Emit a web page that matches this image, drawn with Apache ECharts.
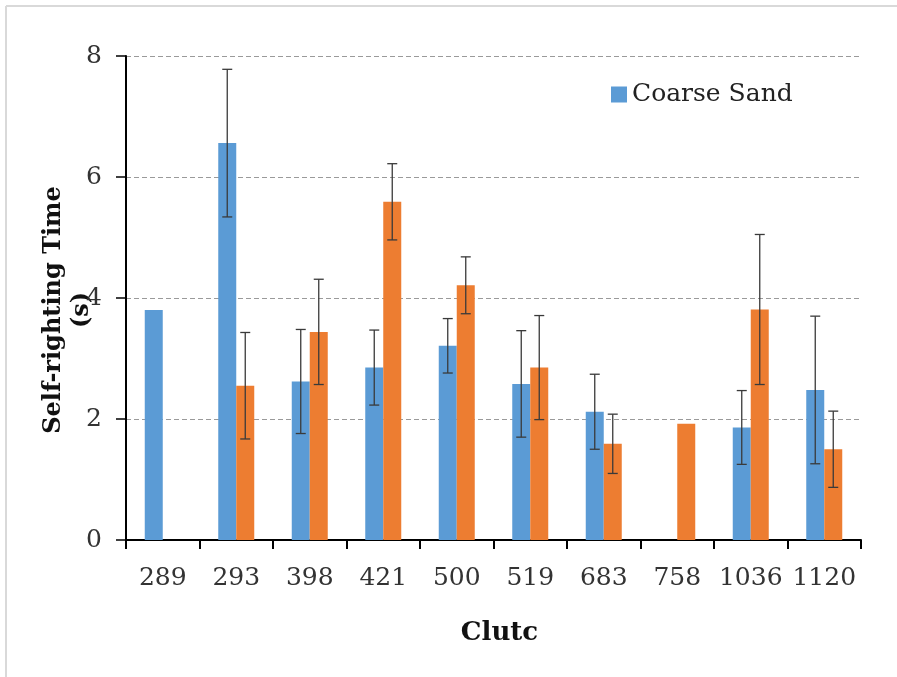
<!DOCTYPE html>
<html>
<head>
<meta charset="utf-8">
<script src="https://cdn.jsdelivr.net/npm/echarts@6/dist/echarts.min.js"></script>
<style>html,body{margin:0;padding:0;background:#fff;}#c{width:897px;height:677px;}</style>
</head>
<body>
<div id="c"></div>
<script>
var categories = ['289','293','398','421','500','519','683','758','1036','1120'];
var coarseSand = [3.80, 6.56, 2.62, 2.85, 3.21, 2.58, 2.12, null, 1.86, 2.48];
var coarseErr  = [null, 1.22, 0.86, 0.62, 0.45, 0.88, 0.62, null, 0.61, 1.22];
var fineSand   = [null, 2.55, 3.44, 5.59, 4.21, 2.85, 1.59, 1.92, 3.81, 1.50];
var fineErr    = [null, 0.88, 0.87, 0.63, 0.47, 0.86, 0.49, null, 1.24, 0.63];
var yTicks = [0, 2, 4, 6, 8];

var BAR_W = 18;
var SERIF = 'DejaVu Serif';

function errData(vals, errs) {
  var out = [];
  for (var i = 0; i < vals.length; i++) {
    if (vals[i] != null && errs[i] != null) out.push([i, vals[i] - errs[i], vals[i] + errs[i]]);
  }
  return out;
}
function errRender(offset) {
  return function (params, api) {
    var lo = api.coord([api.value(0), api.value(1)]);
    var hi = api.coord([api.value(0), api.value(2)]);
    var x = lo[0] + offset;
    var cap = 5;
    var st = { stroke: '#3a3a3a', lineWidth: 1.3 };
    return { type: 'group', children: [
      { type: 'line', shape: { x1: x, y1: lo[1], x2: x, y2: hi[1] }, style: st },
      { type: 'line', shape: { x1: x - cap, y1: lo[1], x2: x + cap, y2: lo[1] }, style: st },
      { type: 'line', shape: { x1: x - cap, y1: hi[1], x2: x + cap, y2: hi[1] }, style: st }
    ]};
  };
}

var chart = echarts.init(document.getElementById('c'), null, { renderer: 'canvas' });
chart.setOption({
  backgroundColor: '#fff',
  animation: false,
  graphic: [
    { type: 'line', shape: { x1: 6, y1: 6, x2: 897, y2: 6 }, style: { stroke: '#d9d9d9', lineWidth: 2 }, z: -1 },
    { type: 'line', shape: { x1: 6, y1: 6, x2: 6, y2: 677 }, style: { stroke: '#d9d9d9', lineWidth: 2 }, z: -1 }
  ],
  grid: { left: 126, right: 36, top: 56, bottom: 137 },
  legend: {
    data: ['Coarse Sand'], left: 606, top: 77, icon: 'rect', itemWidth: 16, itemHeight: 16,
    itemGap: 8, textStyle: { fontFamily: SERIF, fontSize: 25, color: '#222' }
  },
  xAxis: {
    type: 'category', data: categories,
    name: 'Clutc', nameLocation: 'middle', nameGap: 80,
    nameTextStyle: { fontFamily: SERIF, fontWeight: 'bold', fontSize: 26, color: '#111', padding: [0, 0, 0, 12] },
    axisLine: { lineStyle: { color: '#000', width: 2 } },
    axisTick: { show: true, length: 9, lineStyle: { color: '#000', width: 2 } },
    axisLabel: { interval: 0, fontFamily: SERIF, fontSize: 25, color: '#333', margin: 26 }
  },
  yAxis: {
    type: 'value', min: yTicks[0], max: yTicks[yTicks.length - 1], interval: 2,
    name: 'Self-righting Time\n(s)', nameLocation: 'middle', nameRotate: 90, nameGap: 30,
    nameMoveOverlap: false,
    nameTextStyle: { fontFamily: SERIF, fontWeight: 'bold', fontSize: 24, color: '#111', lineHeight: 28, padding: [0, 24, 0, 0] },
    axisLine: { show: true, lineStyle: { color: '#000', width: 2 } },
    axisTick: { show: true, length: 10, lineStyle: { color: '#000', width: 1.5 } },
    axisLabel: { fontFamily: SERIF, fontSize: 25, color: '#333', margin: 24 },
    splitLine: { lineStyle: { color: '#9a9a9a', type: [5, 3], width: 1 } }
  },
  series: [
    { name: 'Coarse Sand', type: 'bar', data: coarseSand, barWidth: BAR_W, barGap: '0%',
      itemStyle: { color: '#5b9bd5' } },
    { name: 'Fine Sand', type: 'bar', data: fineSand, barWidth: BAR_W, barGap: '0%',
      itemStyle: { color: '#ed7d31' } },
    { name: 'Coarse err', type: 'custom', data: errData(coarseSand, coarseErr),
      renderItem: errRender(-BAR_W / 2), encode: { x: 0, y: [1, 2] }, z: 5 },
    { name: 'Fine err', type: 'custom', data: errData(fineSand, fineErr),
      renderItem: errRender(BAR_W / 2), encode: { x: 0, y: [1, 2] }, z: 5 }
  ]
});
</script>
</body>
</html>
